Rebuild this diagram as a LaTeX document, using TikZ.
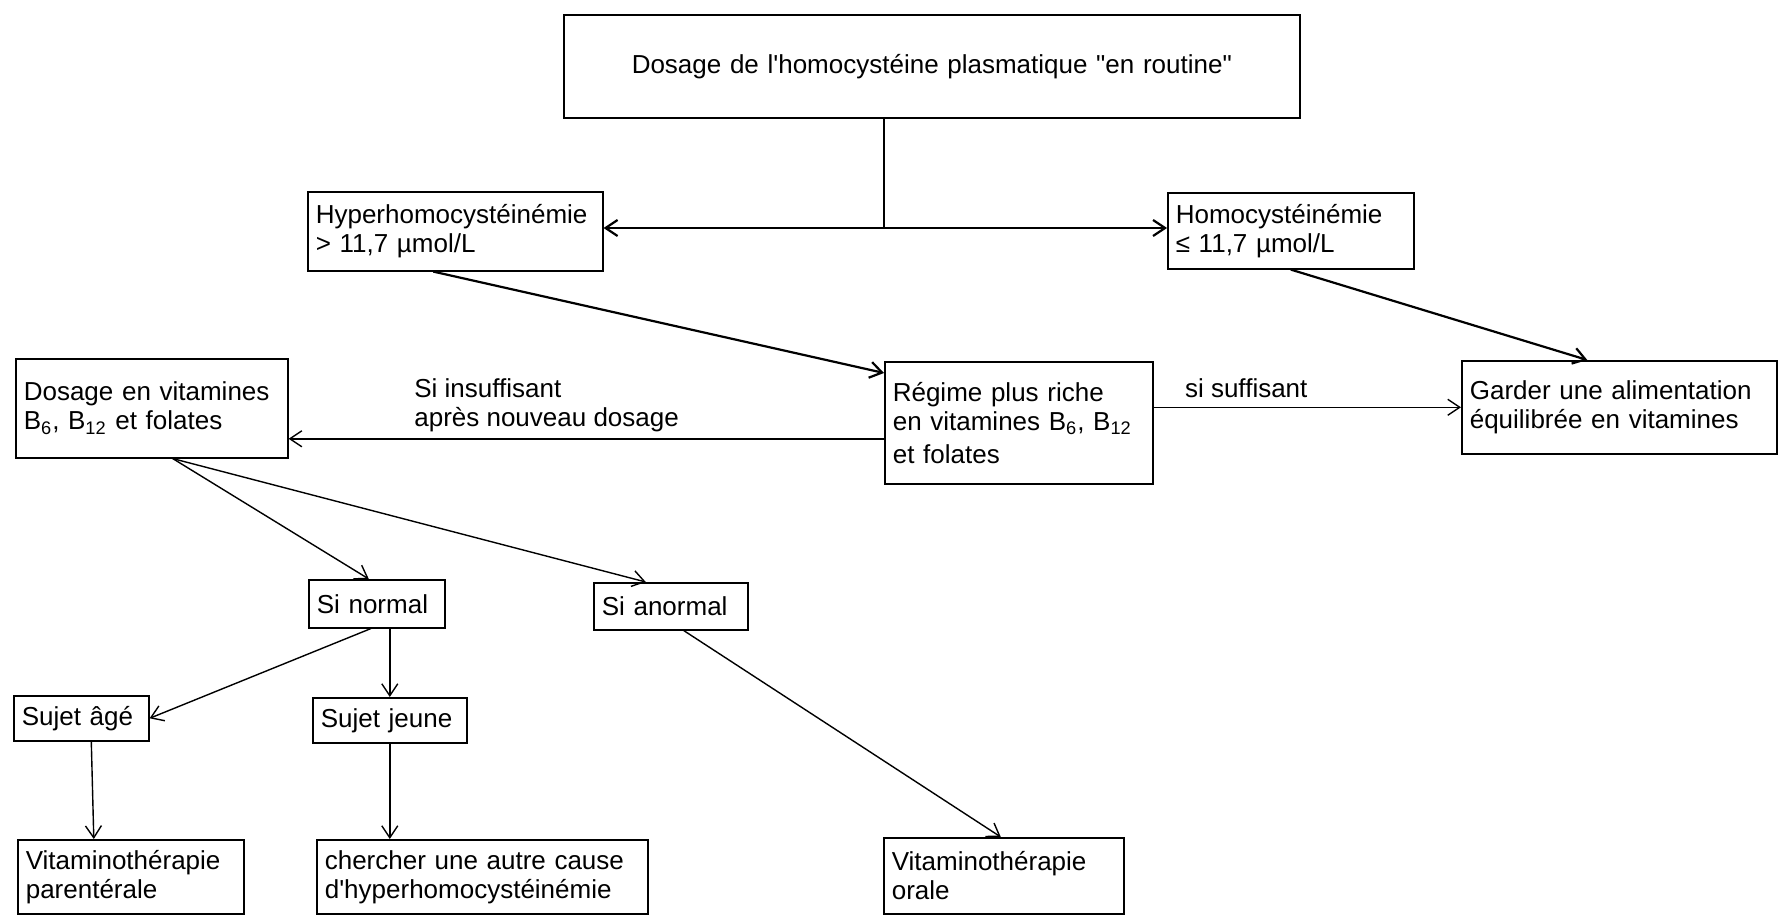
\documentclass[tikz,border=0pt]{standalone}
\usepackage{fontspec}
\setmainfont{Liberation Sans}[Ligatures=TeXOff]
\usetikzlibrary{arrows.meta}

\begin{document}
\begin{tikzpicture}[x=0.5pt,y=-0.5pt,>={Straight Barb[length=6pt,width=8pt]},
  box/.style={draw,line width=0.8pt,anchor=north west,align=left,inner xsep=4pt,inner ysep=2pt,font=\fontsize{13}{14.5}\selectfont},
  lbl/.style={inner sep=0pt,align=left,font=\fontsize{13}{14.5}\selectfont},
  link/.style={line width=0.7pt},
  bold/.style={line width=1.1pt}]
\useasboundingbox (0,0) rectangle (1782,915);
\node[box,align=center,text width=360pt,minimum height=51.5pt] (top) at (563,14) {Dosage de l'homocystéine plasmatique "en routine"};
\node[box,text width=139.5pt,minimum height=39.5pt] (hyper) at (307,191) {Hyperhomocystéinémie\\> 11,7 µmol/L};
\node[box,text width=115pt,minimum height=38pt] (homo) at (1167,192) {Homocystéinémie\\≤ 11,7 µmol/L};
\node[box,text width=126pt,minimum height=61pt] (regime) at (884,361) {Régime plus riche\\en vitamines B\textsubscript{6}, B\textsubscript{12}\\[2pt]et folates};
\node[box,text width=149.5pt,minimum height=46.5pt] (garder) at (1461,360) {Garder une alimentation\\équilibrée en vitamines};
\node[box,text width=128pt,minimum height=49.5pt] (dosage) at (15,358) {Dosage en vitamines\\B\textsubscript{6}, B\textsubscript{12} et folates};
\node[box,text width=60pt,minimum height=24pt] (normal) at (308,579) {Si normal};
\node[box,text width=69pt,minimum height=23.5pt] (anormal) at (593,582) {Si anormal};
\node[box,text width=59.5pt,minimum height=22.5pt] (age) at (13,695) {Sujet âgé};
\node[box,text width=69pt,minimum height=22.5pt] (jeune) at (312,697) {Sujet jeune};
\node[box,text width=105pt,minimum height=37pt] (parent) at (17,839) {Vitaminothérapie\\parentérale};
\node[box,text width=157.5pt,minimum height=37pt] (chercher) at (316,839) {chercher une autre cause\\d'hyperhomocystéinémie};
\node[box,text width=112pt,minimum height=38pt] (orale) at (883,837) {Vitaminothérapie\\orale};

\coordinate (split) at (884,228);
\coordinate (back) at ([yshift=-8pt]regime.west);
\draw[link] (top.south -| split) -- (split);
\draw[<->,bold] (hyper.east |- split) -- (homo.west |- split);
\draw[->,bold] ([xshift=-11pt]hyper.south) -- ([yshift=-6pt]regime.north west);
\draw[->,bold] (homo.south) -- ([xshift=-16pt]garder.north);
\draw[->,link] (garder.west -| regime.east) -- node[lbl,pos=0.1,anchor=base west,yshift=5pt] {si suffisant} (garder.west);
\draw[->,link] (back) -- node[lbl,pos=0.79,anchor=south west,yshift=3pt] {Si insuffisant\\après nouveau dosage} (back -| dosage.east);
\draw[->,link] ([xshift=10.5pt]dosage.south) -- ([xshift=-4pt]normal.north);
\draw[->,link] ([xshift=10.5pt]dosage.south) -- ([xshift=-12.5pt]anormal.north);
\draw[->,link] ([xshift=-3pt]normal.south) -- (age.east);
\draw[->,link] (normal.south -| jeune.north) -- (jeune.north);
\draw[->,link] (jeune.south) -- (jeune.south |- chercher.north);
\draw[->,link] ([xshift=5pt]age.south) -- ([xshift=-18.5pt]parent.north);
\draw[->,link] ([xshift=6.5pt]anormal.south) -- ([xshift=-1.5pt]orale.north);
\end{tikzpicture}
\end{document}
